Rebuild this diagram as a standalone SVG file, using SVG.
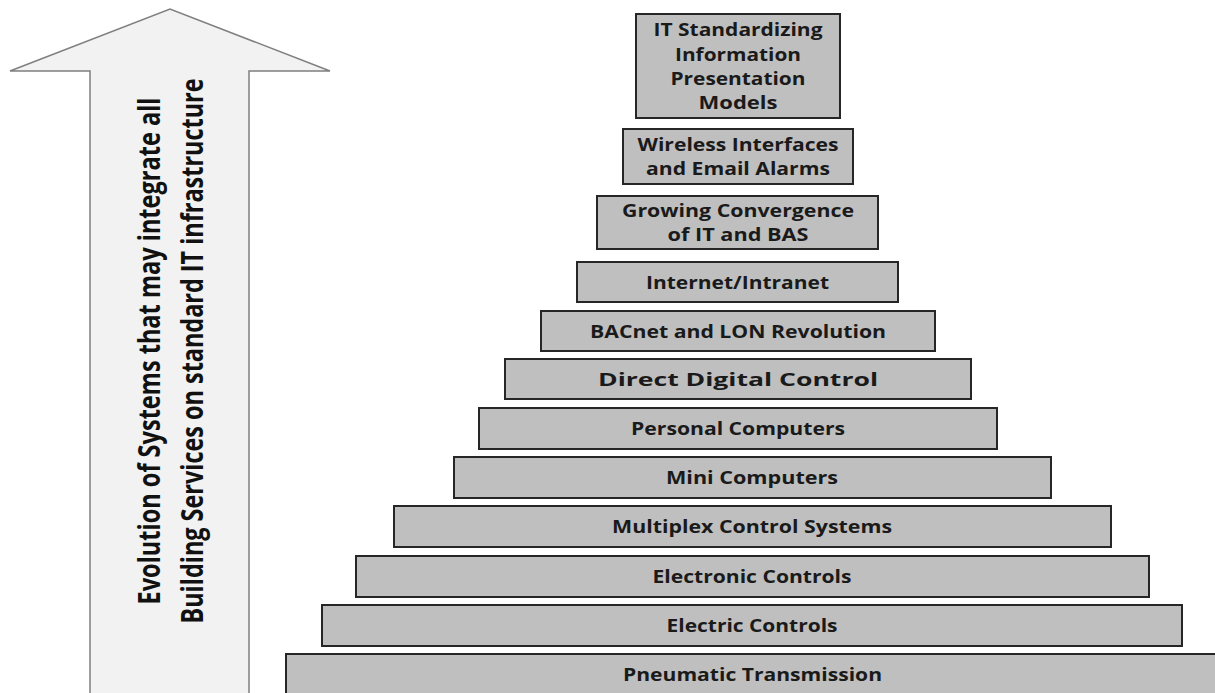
<svg xmlns="http://www.w3.org/2000/svg" width="1215" height="693" viewBox="0 0 1215 693">
<style>
.box{fill:#bfbfbf;stroke:#262626;stroke-width:2}
.t{font-family:"Open Sans","Liberation Sans",sans-serif;font-weight:700;font-size:18px;fill:#1a1a1a;text-anchor:middle}
.at{font-family:"Open Sans","Liberation Sans",sans-serif;font-weight:700;font-size:31px;fill:#111;text-anchor:middle}
</style>
<rect width="1215" height="693" fill="#fff"/>
<g id="arrow">
<path d="M90,700 L90,71 L10,71 L170,9 L330,71 L249,71 L249,700 Z" fill="#f2f2f2" stroke="#7f7f7f" stroke-width="1.5"/>
<g transform="translate(160,351) rotate(-90)"><text class="at" x="0" y="0" textLength="507" lengthAdjust="spacingAndGlyphs">Evolution of Systems that may integrate all</text></g>
<g transform="translate(203,351) rotate(-90)"><text class="at" x="0" y="0" textLength="545" lengthAdjust="spacingAndGlyphs">Building Services on standard IT infrastructure</text></g>
</g>
<g id="connectors"></g>
<g id="n1"><rect class="box" x="636" y="14" width="204" height="104"/>
<text class="t" x="738" y="36" textLength="169" lengthAdjust="spacingAndGlyphs">IT Standardizing</text>
<text class="t" x="738" y="60.5" textLength="126" lengthAdjust="spacingAndGlyphs">Information</text>
<text class="t" x="738" y="85" textLength="135" lengthAdjust="spacingAndGlyphs">Presentation</text>
<text class="t" x="738" y="109" textLength="79" lengthAdjust="spacingAndGlyphs">Models</text></g>
<g id="n2"><rect class="box" x="623" y="129" width="230" height="55"/>
<text class="t" x="738" y="151" textLength="201" lengthAdjust="spacingAndGlyphs">Wireless Interfaces</text>
<text class="t" x="738" y="175" textLength="184" lengthAdjust="spacingAndGlyphs">and Email Alarms</text></g>
<g id="n3"><rect class="box" x="597" y="196" width="281" height="53"/>
<text class="t" x="738" y="217" textLength="232" lengthAdjust="spacingAndGlyphs">Growing Convergence</text>
<text class="t" x="738" y="241" textLength="141" lengthAdjust="spacingAndGlyphs">of IT and BAS</text></g>
<g id="n4"><rect class="box" x="577" y="262" width="321" height="40"/>
<text class="t" x="737.5" y="288.5" textLength="183" lengthAdjust="spacingAndGlyphs">Internet/Intranet</text></g>
<g id="n5"><rect class="box" x="541" y="311" width="394" height="40"/>
<text class="t" x="738" y="337.5" textLength="296" lengthAdjust="spacingAndGlyphs">BACnet and LON Revolution</text></g>
<g id="n6"><rect class="box" x="505" y="359" width="466" height="40"/>
<text class="t" x="738" y="385.5" textLength="280" lengthAdjust="spacingAndGlyphs">Direct Digital Control</text></g>
<g id="n7"><rect class="box" x="479" y="408" width="518" height="41"/>
<text class="t" x="738" y="435" textLength="214" lengthAdjust="spacingAndGlyphs">Personal Computers</text></g>
<g id="n8"><rect class="box" x="454" y="457" width="597" height="41"/>
<text class="t" x="752" y="484" textLength="172" lengthAdjust="spacingAndGlyphs">Mini Computers</text></g>
<g id="n9"><rect class="box" x="394" y="506" width="717" height="41"/>
<text class="t" x="752" y="533" textLength="280" lengthAdjust="spacingAndGlyphs">Multiplex Control Systems</text></g>
<g id="n10"><rect class="box" x="356" y="556" width="793" height="41"/>
<text class="t" x="752" y="583" textLength="199" lengthAdjust="spacingAndGlyphs">Electronic Controls</text></g>
<g id="n11"><rect class="box" x="322" y="605" width="860" height="41"/>
<text class="t" x="752" y="632" textLength="171" lengthAdjust="spacingAndGlyphs">Electric Controls</text></g>
<g id="n12"><rect class="box" x="286" y="654" width="940" height="50"/>
<text class="t" x="752.5" y="680.5" textLength="259" lengthAdjust="spacingAndGlyphs">Pneumatic Transmission</text></g>
</svg>
